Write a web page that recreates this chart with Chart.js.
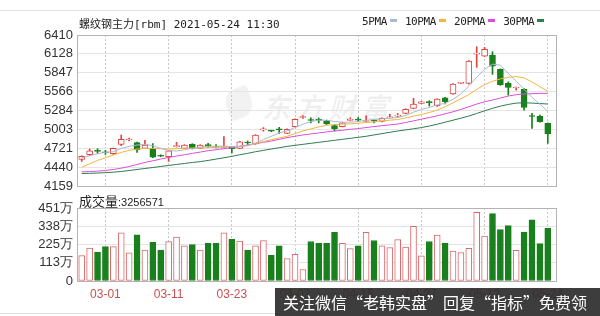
<!DOCTYPE html>
<html>
<head>
<meta charset="utf-8">
<script src="https://cdn.jsdelivr.net/npm/chart.js@4.4.0/dist/chart.umd.min.js"></script>
<style>
  body { margin: 0; width: 600px; height: 316px; background: #fff; overflow: hidden; position: relative; font-family: "Liberation Sans", Arial, sans-serif; }
  canvas { position: absolute; left: 0; }
  #kline { top: 0; }
  #vol { top: 195px; }
  .rule { position: absolute; left: 0; width: 600px; height: 1px; background: #e2e2e2; }
  #title { position: absolute; left: 79px; top: 15px; font: 11px "DejaVu Sans Mono", "Noto Sans CJK SC", monospace; color: #222; white-space: nowrap; }
  #legend { position: absolute; left: 362px; top: 15px; font: 11px "DejaVu Sans Mono", monospace; color: #222; white-space: nowrap; letter-spacing: -0.4px; }
  #legend i { display: inline-block; width: 7px; height: 3px; margin: 0 8px 3px 3px; vertical-align: middle; }
  #vtitle { position: absolute; left: 79px; top: 191px; color: #222; white-space: nowrap; }
  #vtitle b { font: 13px "Noto Sans CJK SC", sans-serif; }
  #vtitle span { font: 11px "Liberation Sans", Arial, sans-serif; }
  #wm { position: absolute; left: 262px; top: 86px; font: italic bold 28px "Noto Sans CJK SC", sans-serif; color: rgba(0,0,0,0.06); letter-spacing: 5px; }
  #wmlogo { position: absolute; left: 226px; top: 88px; width: 26px; height: 30px; border-radius: 50% 10% 50% 10%; background: rgba(0,0,0,0.05); transform: rotate(-20deg); }
  #banner { position: absolute; left: 275px; top: 288px; width: 325px; height: 28px; background: rgba(45,45,45,0.92); color: #fff; font: 16px "Noto Sans CJK SC", sans-serif; line-height: 28px; padding-left: 8px; box-sizing: border-box; white-space: nowrap; }
</style>
</head>
<body>
<div class="rule" style="top:10px"></div>
<div class="rule" style="top:313px"></div>
<div id="wmlogo"></div>
<div id="wm">东方财富</div>
<canvas id="kline" width="600" height="200"></canvas>
<canvas id="vol" width="600" height="121"></canvas>
<div id="title">螺纹钢主力[rbm] 2021-05-24 11:30</div>
<div id="legend">5PMA<i style="background:#a9b9cf"></i>10PMA<i style="background:#f2b63c"></i>20PMA<i style="background:#d94fd9"></i>30PMA<i style="background:#2e7d4f"></i></div>
<div id="vtitle"><b>成交量</b><span>:3256571</span></div>
<div id="banner">关注微信“老韩实盘”回复“指标”免费领</div>
<script>
// --- data ---
const DATES = ['02-24','02-25','02-26','03-01','03-02','03-03','03-04','03-05','03-08','03-09',
  '03-10','03-11','03-12','03-15','03-16','03-17','03-18','03-19','03-22','03-23',
  '03-24','03-25','03-26','03-29','03-30','03-31','04-01','04-02','04-06','04-07',
  '04-08','04-09','04-12','04-13','04-14','04-15','04-16','04-19','04-20','04-21',
  '04-22','04-23','04-26','04-27','04-28','04-29','04-30','05-06','05-07','05-10',
  '05-11','05-12','05-13','05-14','05-17','05-18','05-19','05-20','05-21','05-24'];

const OPEN  = [4555,4625,4690,4665,4640,4780,4845,4805,4720,4720, 4612,4596,4745,4720,4780,4720,4770,4740,4735,4735,
  4721,4810,4785,4995,4982,5005,4944,5043,5180,5145, 5150,5132,5058,5043,5138,5150,5120,5135,5120,5175,
  5200,5242,5317,5391,5410,5351,5475,5530,5690,5688, 6125,6096,6111,5898,5688,5620,5599,5210,5202,5093];
const HIGH  = [4610,4710,4715,4690,4725,4920,4875,4815,4840,4790, 4625,4690,4810,4775,4790,4775,4795,4775,4895,4745,
  4825,4830,4925,5030,4990,5034,5010,5160,5210,5175, 5175,5140,5070,5110,5175,5180,5205,5150,5175,5230,
  5240,5310,5466,5420,5430,5460,5480,5685,5705,6030, 6235,6226,6160,5905,5713,5635,5610,5242,5215,5100];
const LOW   = [4525,4615,4645,4630,4630,4760,4830,4660,4715,4580, 4595,4525,4740,4715,4710,4715,4735,4725,4730,4650,
  4715,4780,4780,4975,4970,4944,4940,5040,5165,5100, 5100,5075,4978,5040,5130,5120,5115,5100,5115,5170,
  5190,5235,5310,5385,5351,5345,5381,5525,5685,5680, 5928,6090,5823,5660,5515,5589,5291,5019,5110,4795];
const CLOSE = [4600,4685,4675,4655,4720,4855,4855,4695,4770,4590, 4602,4685,4758,4770,4720,4770,4760,4733,4745,4715,
  4819,4800,4919,5005,4976,4995,5004,5153,5190,5135, 5138,5083,5010,5102,5148,5140,5130,5125,5168,5180,
  5215,5302,5381,5415,5401,5455,5415,5679,5698,6022, 6140,6196,5947,5664,5629,5629,5332,5195,5117,4934];

const MA5  = [4580,4610,4640,4660,4670,4720,4750,4770,4780,4760, 4720,4690,4680,4700,4720,4740,4750,4750,4755,4745,
  4750,4760,4800,4850,4900,4950,4980,5030,5080,5120, 5140,5140,5120,5110,5110,5120,5140,5150,5160,5170,
  5180,5210,5260,5300,5330,5370,5390,5450,5530,5650, 5780,5900,5975,5960,5840,5720,5600,5480,5380,5270];
const MA10 = [4440,4490,4540,4580,4620,4660,4690,4710,4720,4720, 4715,4710,4715,4720,4725,4725,4730,4735,4740,4745,
  4750,4760,4790,4820,4850,4875,4900,4940,4980,5010, 5040,5065,5075,5080,5085,5095,5105,5115,5130,5140,
  5150,5175,5200,5225,5255,5290,5340,5400,5460,5520, 5600,5670,5720,5755,5780,5790,5770,5710,5640,5570];
const MA20 = [4370,4375,4380,4390,4405,4425,4450,4480,4510,4535, 4560,4585,4605,4625,4645,4665,4685,4700,4715,4730,
  4750,4770,4790,4810,4830,4855,4880,4900,4920,4935, 4950,4965,4980,4990,5004,5015,5030,5045,5058,5070,
  5083,5105,5130,5155,5180,5205,5235,5265,5300,5340, 5380,5415,5440,5470,5500,5520,5530,5535,5540,5540];
const MA30 = [4345,4348,4352,4358,4365,4375,4390,4405,4420,4435, 4450,4465,4480,4495,4510,4522,4540,4560,4580,4600,
  4625,4646,4670,4690,4710,4730,4750,4765,4780,4795, 4810,4825,4840,4855,4869,4885,4900,4920,4940,4960,
  4978,4995,5012,5030,5053,5080,5110,5140,5170,5202, 5240,5280,5317,5350,5375,5395,5400,5395,5388,5381];

// volume in 万手
const VOLUME = [157,204,178,212,212,298,174,286,191,239, 191,244,271,218,225,191,233,233,298,258,
  246,191,218,250,158,218,139,164,71,244, 233,233,300,233,200,218,300,250,218,206,
  256,210,338,155,244,284,235,185,176,202, 424,277,416,317,342,189,302,378,231,325.66];

const PRICE_TICKS = [4159,4440,4721,5003,5284,5566,5847,6128,6410];
const VOL_TICKS = [0,113,225,338,451];
const DATE_TICKS = [3,11,19,27,35,43,51,59];

const RED = '#e0443f', RED_VOL = '#d9686a', GREEN = '#18801c';
const up = OPEN.map((o, i) => CLOSE[i] >= o);

// --- helpers ---
const frame = {
  id: 'frame',
  afterDraw(chart) {
    const { ctx, chartArea: a } = chart;
    ctx.save();
    ctx.strokeStyle = '#b4b4b4';
    ctx.lineWidth = 1;
    ctx.strokeRect(Math.round(a.left) + 0.5, Math.round(a.top) + 0.5, Math.round(a.right - a.left), Math.round(a.bottom - a.top));
    ctx.restore();
  }
};

function xScale(showLabels) {
  return {
    type: 'linear', min: -0.6, max: 60.04, offset: false,
    afterBuildTicks: s => { s.ticks = DATE_TICKS.map(v => ({ value: v })); },
    afterFit: s => { s.height = showLabels ? 35 : 0; },
    grid: { color: '#c8c8c8', offset: false, drawTicks: false },
    border: { display: false, dash: [2, 2] },
    ticks: {
      display: showLabels, autoSkip: false, maxRotation: 0, padding: 6,
      color: '#c85050', font: { size: 12, family: 'Liberation Sans' },
      callback: v => DATES[v]
    }
  };
}

function yScale(min, max, ticks, fmt) {
  return {
    min, max, beginAtZero: false,
    afterBuildTicks: s => { s.ticks = ticks.map(v => ({ value: v })); },
    afterFit: s => { s.width = 77; },
    grid: { color: '#e4e4e4', drawTicks: false },
    border: { display: false },
    ticks: { color: '#333', padding: 4, autoSkip: false, font: { size: 13, family: 'Liberation Sans' }, callback: fmt }
  };
}

const pts = arr => arr.map((v, i) => ({ x: i, y: v }));
const maLine = (arr, color) => ({ type: 'line', data: pts(arr), borderColor: color, borderWidth: 1, pointRadius: 0, tension: 0, order: 0 });

// --- K line ---
new Chart(document.getElementById('kline'), {
  type: 'bar',
  data: {
    datasets: [
      maLine(MA5, '#a9b9cf'),
      maLine(MA10, '#f2b63c'),
      maLine(MA20, '#d94fd9'),
      maLine(MA30, '#2e7d4f'),
      {
        data: OPEN.map((o, i) => ({ x: i, y: [o, CLOSE[i]] })),
        backgroundColor: up.map(u => u ? '#fff' : GREEN),
        borderColor: up.map(u => u ? RED : GREEN),
        borderWidth: 1, borderSkipped: false, barThickness: 6, minBarLength: 1, grouped: false, order: 5
      },
      {
        data: LOW.map((l, i) => ({ x: i, y: [l, HIGH[i]] })),
        backgroundColor: up.map(u => u ? RED : GREEN),
        borderWidth: 0, barThickness: 1, grouped: false, order: 6
      }
    ]
  },
  options: {
    responsive: false, devicePixelRatio: 1, animation: false, events: [],
    layout: { padding: { top: 35, bottom: 14, left: 0, right: 44 } },
    plugins: { legend: { display: false }, tooltip: { enabled: false } },
    scales: {
      x: xScale(false),
      y: yScale(4159, 6410, PRICE_TICKS, v => String(v))
    }
  },
  plugins: [frame]
});

// --- Volume ---
new Chart(document.getElementById('vol'), {
  type: 'bar',
  data: {
    datasets: [{
      data: VOLUME.map((v, i) => ({ x: i, y: v })),
      backgroundColor: up.map(u => u ? '#fff' : GREEN),
      borderColor: up.map(u => u ? RED_VOL : GREEN),
      borderWidth: 1, borderSkipped: false, barThickness: 6, grouped: false
    }]
  },
  options: {
    responsive: false, devicePixelRatio: 1, animation: false, events: [],
    layout: { padding: { top: 13, bottom: 0, left: 0, right: 44 } },
    plugins: { legend: { display: false }, tooltip: { enabled: false } },
    scales: {
      x: xScale(true),
      y: yScale(0, 451, VOL_TICKS, v => v === 0 ? '0' : v + '万')
    }
  },
  plugins: [frame]
});
</script>
</body>
</html>
